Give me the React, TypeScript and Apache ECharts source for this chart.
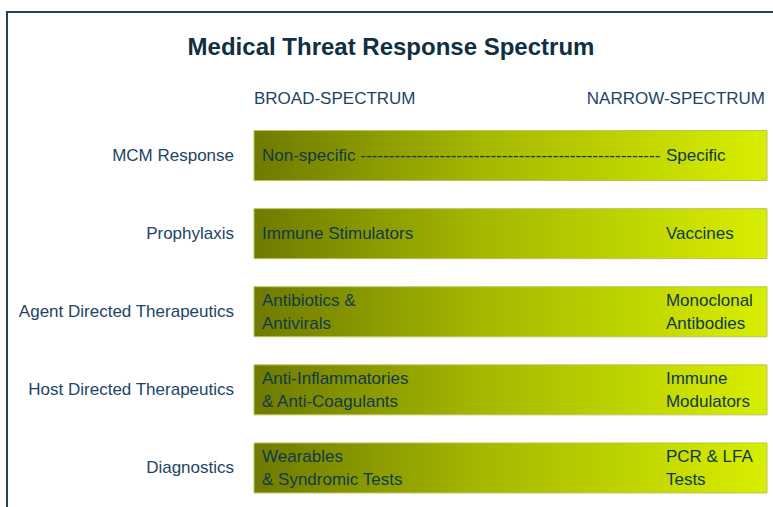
import React, { useEffect, useRef } from "react";
import * as echarts from "echarts";

const categories = [
  "MCM Response",
  "Prophylaxis",
  "Agent Directed Therapeutics",
  "Host Directed Therapeutics",
  "Diagnostics",
];
const broadLabels = [
  "Non-specific " + "-".repeat(53),
  "Immune Stimulators",
  "Antibiotics &\nAntivirals",
  "Anti-Inflammatories\n& Anti-Coagulants",
  "Wearables\n& Syndromic Tests",
];
const narrowLabels = [
  "Specific",
  "Vaccines",
  "Monoclonal\nAntibodies",
  "Immune\nModulators",
  "PCR & LFA\nTests",
];
const spanStart = [0, 0, 0, 0, 0];
const spanEnd = [100, 100, 100, 100, 100];
const spectrumHeaders = ["BROAD-SPECTRUM", "NARROW-SPECTRUM"];
const chartTitle = "Medical Threat Response Spectrum";

const FONT = '"Liberation Sans", Arial, sans-serif';
const NARROW_AT = 80.3;

export default function App() {
  const ref = useRef<HTMLDivElement>(null);
  useEffect(() => {
    if (!ref.current) return;
    const chart = echarts.init(ref.current, null, { renderer: "svg" });
    const data = categories.map((c, i) => [i, spanStart[i], spanEnd[i]]);
    chart.setOption({
      animation: false,
      backgroundColor: "#ffffff",
      graphic: [
        {
          type: "rect",
          shape: { x: 7, y: 12, width: 820, height: 600 },
          style: { fill: "none", stroke: "#1d4466", lineWidth: 2 },
          silent: true,
        },
        {
          type: "text",
          x: 391,
          y: 46,
          style: {
            text: chartTitle,
            align: "center",
            verticalAlign: "middle",
            font: `bold 24px ${FONT}`,
            fill: "#0f2f42",
          },
        },
        {
          type: "text",
          left: 254,
          top: 90,
          style: {
            text: spectrumHeaders[0],
            font: `17px ${FONT}`,
            fill: "#1d4466",
          },
        },
        {
          type: "text",
          right: 8,
          top: 90,
          style: {
            text: spectrumHeaders[1],
            font: `17px ${FONT}`,
            fill: "#1d4466",
          },
        },
      ],
      grid: { left: 254, right: 6, top: 116.5, height: 393.3 },
      xAxis: { type: "value", min: 0, max: 100, show: false },
      yAxis: {
        type: "category",
        data: categories,
        inverse: true,
        axisLine: { show: false },
        axisTick: { show: false },
        splitLine: { show: false },
        axisLabel: {
          margin: 20,
          fontFamily: FONT,
          fontSize: 17,
          color: "#1d4466",
        },
      },
      series: [
        {
          type: "custom",
          data,
          encode: { x: [1, 2], y: 0 },
          renderItem: (params: any, api: any) => {
            const idx = api.value(0);
            const p0 = api.coord([api.value(1), idx]);
            const p1 = api.coord([api.value(2), idx]);
            const pn = api.coord([NARROW_AT, idx]);
            const h = 50;
            return {
              type: "group",
              children: [
                {
                  type: "rect",
                  shape: { x: p0[0], y: p0[1] - h / 2, width: p1[0] - p0[0], height: h },
                  style: {
                    fill: new echarts.graphic.LinearGradient(0, 0, 1, 0, [
                      { offset: 0, color: "#6f7a00" },
                      { offset: 0.45, color: "#a6b800" },
                      { offset: 1, color: "#d8ee00" },
                    ]),
                    stroke: "#bcc45a",
                    lineWidth: 1,
                  },
                },
                {
                  type: "text",
                  style: {
                    text: broadLabels[params.dataIndex],
                    x: p0[0] + 8,
                    y: p0[1],
                    verticalAlign: "middle",
                    align: "left",
                    font: `17px ${FONT}`,
                    lineHeight: 23,
                    fill: "#0f3a4c",
                  },
                },
                {
                  type: "text",
                  style: {
                    text: narrowLabels[params.dataIndex],
                    x: pn[0],
                    y: p0[1],
                    verticalAlign: "middle",
                    align: "left",
                    font: `17px ${FONT}`,
                    lineHeight: 23,
                    fill: "#0f3a4c",
                  },
                },
              ],
            };
          },
        },
      ],
    });
    return () => chart.dispose();
  }, []);
  return (
    <div
      ref={ref}
      style={{ position: "fixed", left: 0, top: 0, width: 773, height: 507 }}
    />
  );
}
